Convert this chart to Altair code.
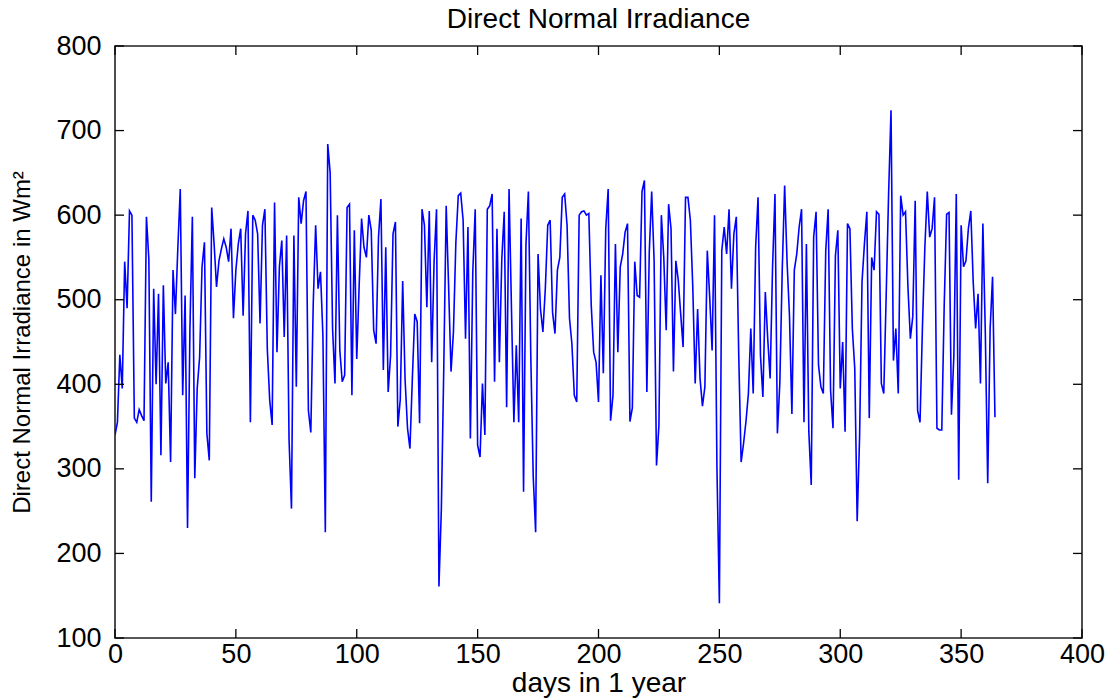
import altair as alt
import pandas as pd

# Daily direct normal irradiance (W/m^2), days 0..364
dni_q1 = [340, 355, 435, 395, 545, 490, 605, 600, 360, 355, 370, 363, 357, 598, 548, 261, 513, 400, 507, 316,
          517, 401, 426, 308, 535, 483, 562, 631, 387, 505, 230, 466, 598, 289, 395, 432, 539, 568, 342, 310,
          609, 566, 515, 546, 560, 572, 562, 545, 584, 478, 535, 566, 584, 481, 578, 605, 355, 600, 594, 578,
          472, 588, 607, 442, 381, 352, 615, 438, 539, 570, 456, 576, 334, 253, 576, 397, 621, 590, 617, 628,
          369, 343, 495, 588, 513, 533, 458, 225, 684, 650, 466]
dni_q2 = [401, 600, 440, 403, 411, 609, 613, 387, 582, 430, 517, 596, 562, 550, 600, 582, 464, 448, 574, 619,
          417, 562, 391, 434, 578, 592, 350, 382, 522, 405, 348, 324, 407, 483, 474, 354, 607, 588, 491, 605,
          426, 546, 607, 161, 253, 420, 611, 515, 415, 462, 568, 623, 626, 594, 454, 586, 336, 533, 607, 328,
          314, 401, 340, 607, 611, 625, 403, 584, 426, 548, 604, 373, 631, 489, 355, 446, 355, 596, 273, 566,
          628, 432, 291, 225, 554, 489, 462, 513, 588, 594, 485]
dni_q3 = [460, 535, 550, 621, 625, 588, 478, 448, 387, 379, 600, 604, 605, 600, 602, 493, 438, 426, 379, 529,
          413, 584, 631, 357, 387, 566, 438, 539, 554, 580, 590, 356, 372, 545, 505, 503, 628, 641, 391, 556,
          628, 546, 304, 352, 600, 550, 464, 613, 584, 415, 546, 523, 483, 444, 621, 621, 594, 515, 401, 489,
          407, 374, 397, 558, 503, 440, 600, 300, 141, 558, 586, 554, 607, 513, 578, 598, 436, 308, 330, 356,
          389, 466, 389, 562, 621, 434, 385, 509, 454, 407, 539, 625]
dni_q4 = [342, 401, 535, 635, 545, 481, 365, 535, 554, 586, 607, 355, 566, 344, 281, 574, 604, 423, 397, 389,
          558, 607, 393, 348, 552, 582, 395, 450, 344, 590, 584, 466, 419, 238, 338, 521, 566, 604, 360, 550,
          535, 604, 601, 401, 389, 505, 625, 724, 428, 466, 389, 623, 600, 604, 515, 454, 480, 617, 369, 355,
          468, 562, 628, 574, 584, 621, 348, 346, 346, 493, 601, 603, 364, 434, 625, 287, 588, 539, 546, 584,
          605, 521, 466, 507, 401, 590, 462, 283, 466, 527, 361]

x_ticks = [0, 50, 100, 150, 200, 250, 300, 350, 400]
y_ticks = [100, 200, 300, 400, 500, 600, 700, 800]

values = dni_q1 + dni_q2 + dni_q3 + dni_q4
df = pd.DataFrame({"day": list(range(len(values))), "dni": values})
xt = pd.DataFrame({"v": x_ticks})
yt = pd.DataFrame({"v": y_ticks})

W, H = 967, 592
FONT = "Liberation Sans"
xscale = alt.Scale(domain=[0, 400], nice=False, zero=False)
yscale = alt.Scale(domain=[100, 800], nice=False, zero=False)
xaxis = alt.Axis(values=x_ticks, title="days in 1 year", labelPadding=3, titlePadding=2,
                 labelFontSize=27, titleFontSize=28, labelFlush=False)
yaxis = alt.Axis(values=y_ticks, title="Direct Normal Irradiance in Wm²", labelPadding=14,
                 titlePadding=21, labelFontSize=27, titleFontSize=24, labelFlush=False)

line = alt.Chart(df).mark_line(color="#0000ff", strokeWidth=1.6, clip=True).encode(
    x=alt.X("day:Q", scale=xscale, axis=xaxis),
    y=alt.Y("dni:Q", scale=yscale, axis=yaxis),
)

tk = dict(color="black", strokeWidth=1.3)
xb = alt.Chart(xt).mark_rule(**tk).encode(x=alt.X("v:Q", scale=xscale, axis=xaxis),
                                          y=alt.value(H), y2=alt.value(H - 9))
xtop = alt.Chart(xt).mark_rule(**tk).encode(x=alt.X("v:Q", scale=xscale, axis=xaxis),
                                            y=alt.value(0), y2=alt.value(9))
yl = alt.Chart(yt).mark_rule(**tk).encode(y=alt.Y("v:Q", scale=yscale, axis=yaxis),
                                          x=alt.value(0), x2=alt.value(9))
yr = alt.Chart(yt).mark_rule(**tk).encode(y=alt.Y("v:Q", scale=yscale, axis=yaxis),
                                          x=alt.value(W), x2=alt.value(W - 9))

chart = alt.layer(line, xb, xtop, yl, yr).properties(
    width=W, height=H,
    background="white",
    title=alt.TitleParams("Direct Normal Irradiance", fontSize=28, font=FONT, fontWeight="normal",
                          color="black", offset=14, dy=16),
    autosize=alt.AutoSizeParams(type="none"),
    padding={"left": 115, "top": 46, "right": 38, "bottom": 62},
).configure_view(stroke="#222222", strokeWidth=1.6).configure_axis(
    domain=False, ticks=False, grid=False, labelFont=FONT, titleFont=FONT,
    labelColor="black", titleColor="black", titleFontWeight="normal",
)

chart.save("out.html", embed_options={"renderer": "svg", "actions": False})
